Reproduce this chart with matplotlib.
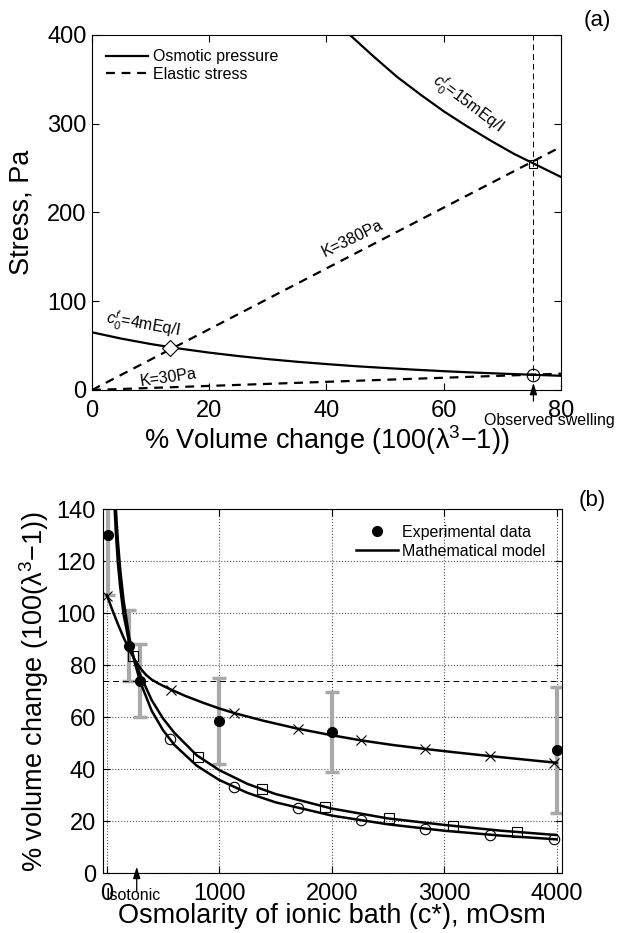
import matplotlib.pyplot as plt

# Fuente parecida a la de la figura original
plt.rcParams['font.family'] = ['Liberation Sans', 'DejaVu Sans']
plt.rcParams['mathtext.fontset'] = 'custom'
plt.rcParams['mathtext.rm'] = 'Liberation Sans'
plt.rcParams['mathtext.it'] = 'Liberation Sans:italic'

# ---- datos panel (a) ----
vol_15 = [42, 44, 48, 52, 56, 60, 64, 68, 72, 76, 80]
osm_15 = [413, 400, 376, 353, 333, 314, 297, 281, 266, 253, 240]
vol_4 = [0, 5, 10, 15, 20, 25, 30, 35, 40, 45, 50, 55, 60, 65, 70, 75, 80]
osm_4 = [65, 57.9, 51.8, 46.6, 42.1, 38.2, 34.8, 31.8, 29.2, 26.8, 24.8,
         22.9, 21.2, 19.7, 18.4, 17.2, 16.0]
vol_el = [0, 20, 40, 60, 80]
el_380 = [0, 68.5, 137, 205.5, 274]
el_30 = [0, 4.6, 9.2, 13.8, 18.4]
swell_obs = 75.3
cruce_4 = (13.3, 47)
cruce_15 = (75.3, 255)
cruce_30 = (75.3, 17)

# ---- datos panel (b) ----
c_exp = [10, 200, 300, 1000, 2000, 4000]
v_exp = [130, 87.5, 74, 58.5, 54.3, 47.4]
err_exp = [23, 13.5, 14, 16.5, 15.3, 24.3]

c_x = [0, 50, 100, 150, 200, 250, 300, 350, 400, 460, 520, 579, 700, 850,
       1000, 1136, 1400, 1700, 2000, 2264, 2550, 2834, 3100, 3404, 3700, 4000]
v_x = [107, 101.2, 95.7, 90.6, 86, 82, 78.7, 76.2, 74.4, 72.9, 71.6, 70.4,
       68.1, 65.6, 63.3, 61.5, 58.5, 55.5, 53.0, 51.0, 49.2, 47.7, 46.4,
       45.0, 43.7, 42.4]
c_x_mk = [5, 570, 1136, 1700, 2264, 2834, 3404, 3977]
v_x_mk = [106.5, 70.5, 61.5, 55.5, 51.0, 47.7, 45.0, 42.5]

c_sq = [70, 80, 100, 120, 150, 200, 250, 300, 400, 500, 600, 800, 1000,
        1250, 1500, 2000, 2500, 3000, 3500, 4000]
v_sq = [141, 132, 119, 110, 99.5, 88.5, 81.5, 76, 66.5, 59.5, 54, 45.3,
        39.6, 34.3, 30.4, 24.8, 21.0, 18.5, 16.3, 14.6]
c_sq_mk = [237, 816, 1380, 1944, 2508, 3078, 3645]
v_sq_mk = [83.3, 44.8, 32.2, 25.3, 21.0, 18.2, 15.8]

c_ci = [80, 90, 100, 120, 150, 200, 250, 300, 400, 500, 600, 800, 1000,
        1250, 1500, 2000, 2500, 3000, 3500, 4000]
v_ci = [141.4, 134, 127.5, 116.9, 104.9, 90.7, 80.8, 73.3, 62.4, 55, 49.35,
        41.3, 35.8, 30.85, 27.2, 22.1, 18.73, 16.27, 14.4, 12.95]
c_ci_mk = [564, 1136, 1700, 2264, 2834, 3404, 3977]
v_ci_mk = [51.4, 33.1, 25.1, 20.3, 17.0, 14.7, 13.0]

swell_iso = 74
c_isotonic = 267

fig = plt.figure(figsize=(6.38, 9.33), dpi=100)
flecha = dict(arrowstyle='-|>,head_length=0.7,head_width=0.22', color='k',
              lw=0.9, shrinkA=0, shrinkB=0)

# =================== (a) ===================
ax = fig.add_axes([0.1442, 0.5820, 0.7351, 0.3805])
dash = (0, (4, 3))
ax.plot(vol_15, osm_15, 'k-', lw=1.6, label='Osmotic pressure')
ax.plot(vol_4, osm_4, 'k-', lw=1.6)
ax.plot(vol_el, el_380, color='k', ls=dash, lw=1.6, label='Elastic stress')
ax.plot(vol_el, el_30, color='k', ls=dash, lw=1.6)
ax.axvline(swell_obs, color='k', ls=(0, (6, 4)), lw=0.7)
ax.plot(*cruce_4, 'D', ms=8, mfc='white', mec='k', mew=0.8)
ax.plot(*cruce_15, 's', ms=6, mfc='none', mec='k', mew=0.8)
ax.plot(*cruce_30, 'o', ms=9, mfc='none', mec='k', mew=0.8)

ax.set_xlim(0, 80)
ax.set_ylim(0, 400)
ax.set_xticks([0, 20, 40, 60, 80])
ax.set_yticks([0, 100, 200, 300, 400])
ax.tick_params(direction='in', top=True, right=True, labelsize=17, length=5)
ax.tick_params(axis='x', pad=7)
ax.tick_params(axis='y', pad=4)
ax.set_xlabel('% Volume change (100(λ$^3$−1))', fontsize=19.5, labelpad=1)
ax.set_ylabel('Stress, Pa', fontsize=19.5, labelpad=9)

ax.text(64, 322, '$c_0^f$=15mEq/l', fontsize=11.5, rotation=-37,
        ha='center', va='center', rotation_mode='anchor')
ax.text(44.5, 171, 'K=380Pa', fontsize=11.5, rotation=26,
        ha='center', va='center', rotation_mode='anchor')
ax.text(8.6, 73, '$c_0^f$=4mEq/l', fontsize=11.5, rotation=-10,
        ha='center', va='center', rotation_mode='anchor')
ax.text(13, 13.5, 'K=30Pa', fontsize=11.5, rotation=8,
        ha='center', va='center', rotation_mode='anchor')

ax.annotate('', xy=(swell_obs, 8), xytext=(swell_obs, -12.5),
            arrowprops=flecha, annotation_clip=False)
ax.text(78.1, -34, 'Observed swelling', fontsize=11.5, ha='center',
        va='center', clip_on=False)

ax.legend(loc='upper left', frameon=False, fontsize=11.5, handlelength=2.6,
          labelspacing=0.15, borderaxespad=0.5, handletextpad=0.3)
fig.text(0.936, 0.978, '(a)', fontsize=16, ha='center', va='center')

# =================== (b) ===================
bx = fig.add_axes([0.1614, 0.0643, 0.7190, 0.3901])
bx.grid(True, ls=':', color='#555555', lw=0.8)
bx.set_axisbelow(True)
bx.errorbar(c_exp, v_exp, yerr=err_exp, fmt='none', ecolor='#a9a9a9',
            elinewidth=3, capsize=5, capthick=2.5, zorder=2)
bx.axhline(swell_iso, color='k', ls=(0, (6, 4)), lw=0.7, zorder=3)
bx.plot(c_x, v_x, 'k-', lw=1.8, zorder=4)
bx.plot(c_sq, v_sq, 'k-', lw=1.8, zorder=4)
bx.plot(c_ci, v_ci, 'k-', lw=1.8, zorder=4)
bx.plot(c_x_mk, v_x_mk, 'x', color='k', ms=7, mew=0.8, zorder=5)
bx.plot(c_sq_mk, v_sq_mk, 's', ms=6.5, mfc='none', mec='k', mew=0.8, zorder=5)
bx.plot(c_ci_mk, v_ci_mk, 'o', ms=7.5, mfc='none', mec='k', mew=0.8, zorder=5)
bx.plot(c_exp, v_exp, 'o', color='k', ms=7, zorder=6,
        label='Experimental data')
bx.plot([], [], 'k-', lw=1.8, label='Mathematical model')

bx.set_xlim(-33, 4045)
bx.set_ylim(0, 140)
bx.set_xticks([0, 1000, 2000, 3000, 4000])
bx.set_yticks(range(0, 141, 20))
bx.tick_params(direction='in', top=True, right=True, labelsize=17, length=5)
bx.tick_params(axis='x', pad=7)
bx.tick_params(axis='y', pad=5)
bx.set_xlabel('Osmolarity of ionic bath (c*), mOsm', fontsize=19.5,
              labelpad=-1)
bx.set_ylabel('% volume change (100(λ$^3$−1))', fontsize=19.5, labelpad=4)

bx.annotate('', xy=(c_isotonic, 2.4), xytext=(c_isotonic, -7.2),
            arrowprops=flecha, annotation_clip=False)
bx.text(237, -8.5, 'Isotonic', fontsize=11.5, ha='center', va='center',
        clip_on=False)

bx.legend(loc='upper right', frameon=False, fontsize=11.5, handlelength=2.6,
          labelspacing=0.25, borderaxespad=0.6, handletextpad=0.3,
          markerfirst=True)
fig.text(0.929, 0.464, '(b)', fontsize=16, ha='center', va='center')

fig.savefig('out.png', dpi=100)
